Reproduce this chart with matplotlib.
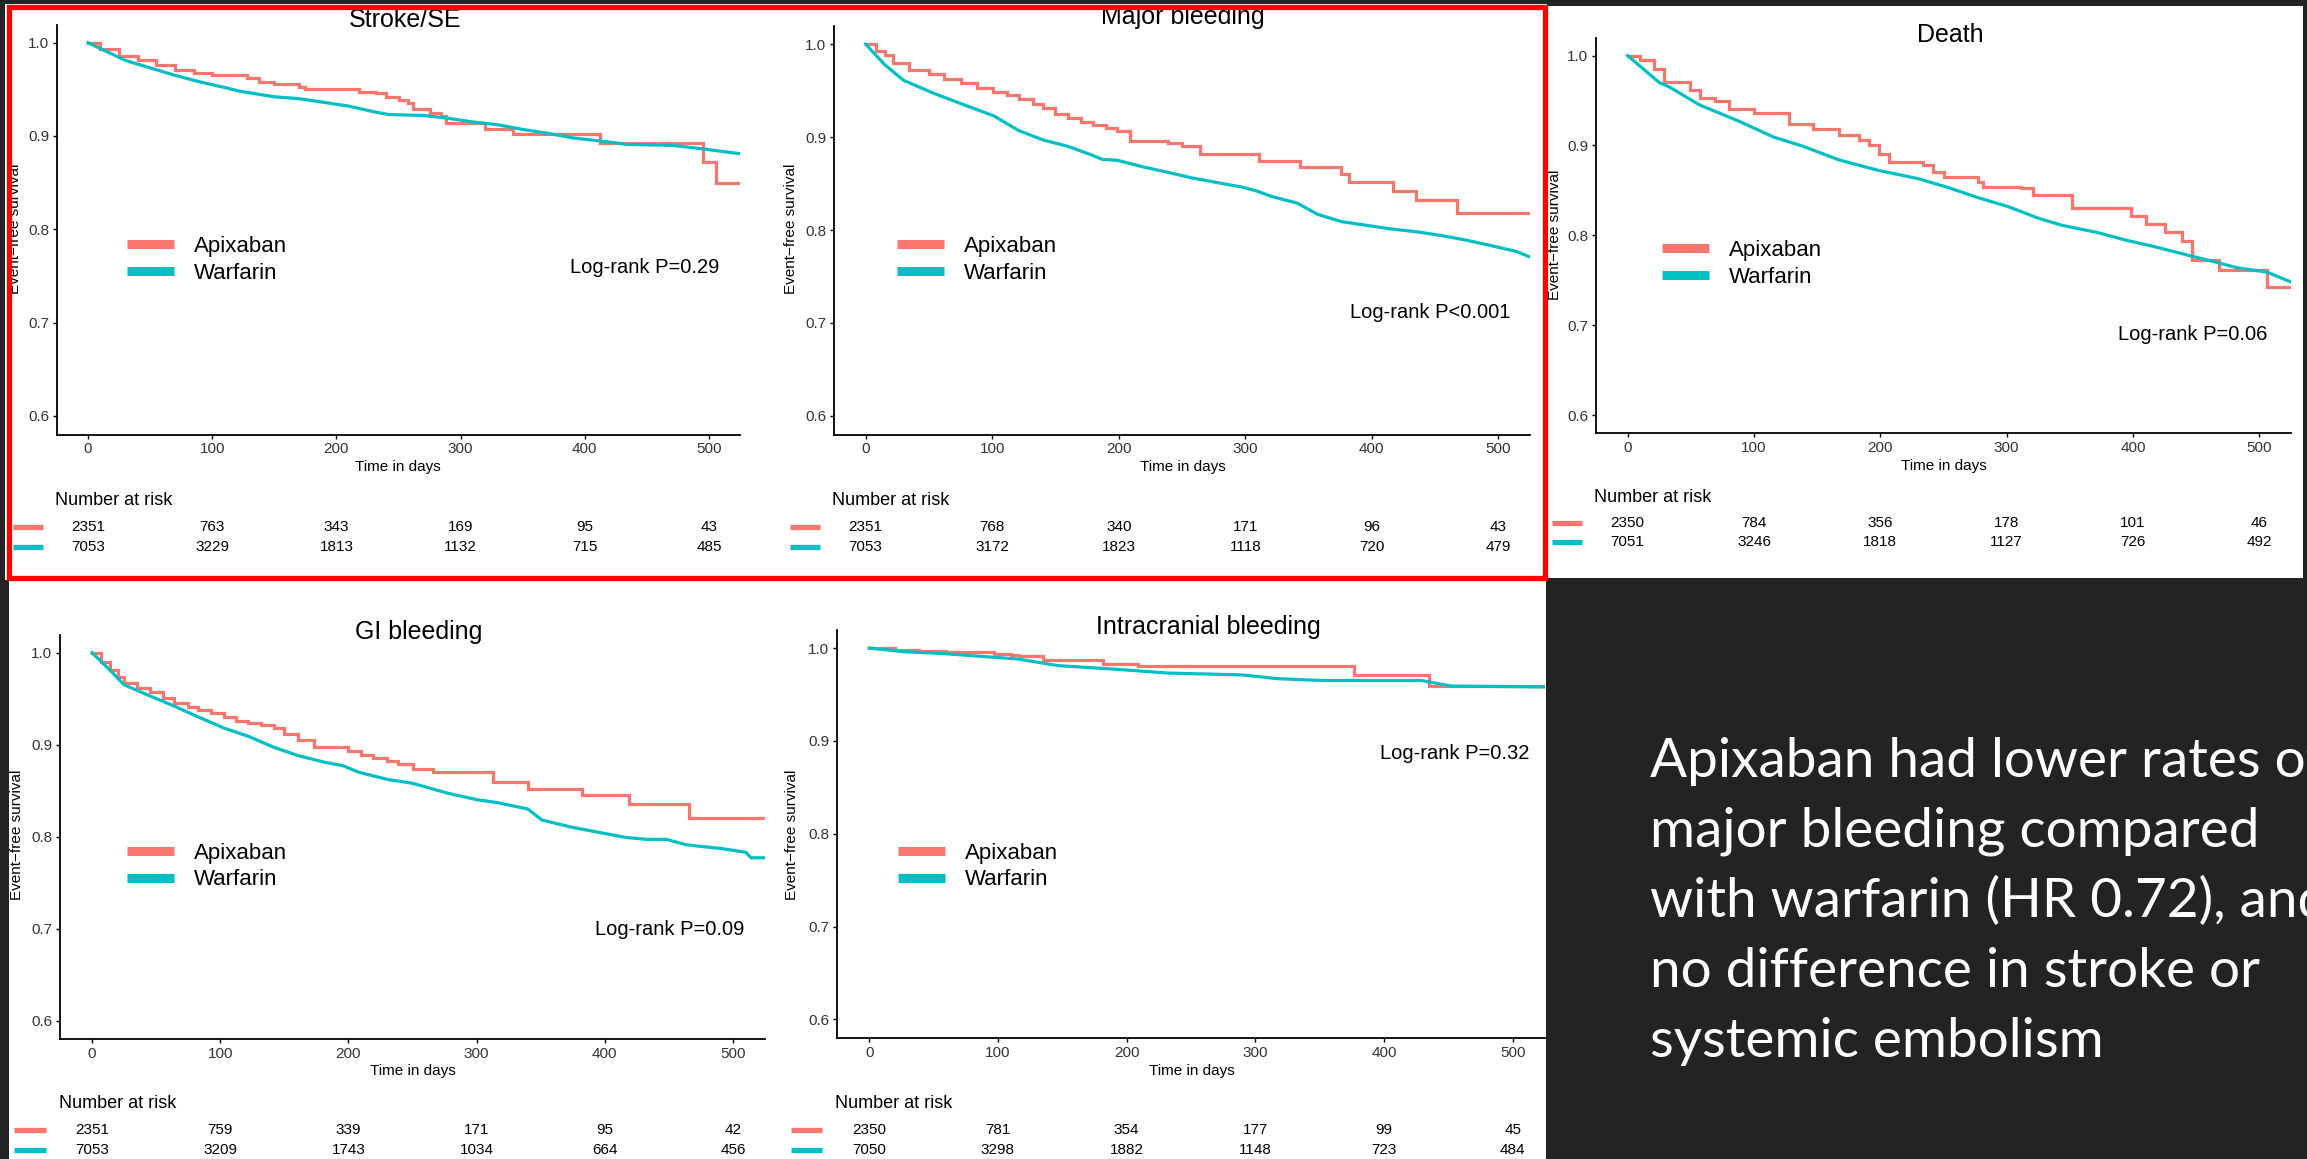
import matplotlib
matplotlib.use('Agg')
import matplotlib.pyplot as plt
from matplotlib.lines import Line2D
from matplotlib.patches import Rectangle
from matplotlib.transforms import blended_transform_factory

W, H = 2307, 1159
APIX = '#F8766D'
WARF = '#00BFC4'
BG = '#232323'

plt.rcParams['font.family'] = ['Liberation Sans', 'DejaVu Sans']

# ---- data ----
risk_days = [0, 100, 200, 300, 400, 500]
titles = ['Stroke/SE', 'Major bleeding', 'Death', 'GI bleeding', 'Intracranial bleeding']
p_values = ['Log-rank P=0.29', 'Log-rank P<0.001', 'Log-rank P=0.06', 'Log-rank P=0.09', 'Log-rank P=0.32']

# Stroke/SE
stroke_apix_t = [0, 10, 25, 40, 55, 70, 85, 100, 128, 138, 150, 170, 175, 218, 232, 240, 250, 258, 262, 275, 284, 288, 320, 342, 412, 495, 506, 525]
stroke_apix_s = [1.0, 0.993, 0.986, 0.981, 0.976, 0.971, 0.967, 0.965, 0.962, 0.958, 0.956, 0.953, 0.950, 0.947, 0.946, 0.942, 0.939, 0.935, 0.929, 0.925, 0.921, 0.914, 0.908, 0.902, 0.892, 0.872, 0.850, 0.850]
stroke_warf_t = [0, 30, 50, 70, 90, 110, 122, 150, 170, 190, 210, 230, 242, 270, 290, 310, 330, 350, 370, 390, 410, 434, 470, 490, 525]
stroke_warf_s = [1.0, 0.981, 0.973, 0.965, 0.958, 0.952, 0.948, 0.942, 0.940, 0.936, 0.932, 0.926, 0.923, 0.922, 0.919, 0.915, 0.912, 0.907, 0.903, 0.898, 0.895, 0.891, 0.890, 0.887, 0.881]
stroke_risk_apix = [2351, 763, 343, 169, 95, 43]
stroke_risk_warf = [7053, 3229, 1813, 1132, 715, 485]

# Major bleeding
major_apix_t = [0, 8, 15, 22, 34, 50, 62, 75, 88, 101, 112, 121, 132, 140, 150, 160, 170, 180, 190, 199, 209, 239, 250, 264, 311, 343, 376, 382, 417, 435, 467, 525]
major_apix_s = [1.0, 0.993, 0.988, 0.980, 0.972, 0.968, 0.963, 0.958, 0.953, 0.949, 0.945, 0.941, 0.936, 0.931, 0.925, 0.920, 0.916, 0.913, 0.910, 0.907, 0.896, 0.894, 0.890, 0.882, 0.874, 0.868, 0.860, 0.852, 0.842, 0.832, 0.818, 0.818]
major_warf_t = [0, 15, 30, 54, 81, 101, 121, 140, 160, 180, 187, 199, 219, 239, 258, 278, 298, 309, 321, 341, 349, 357, 376, 396, 416, 436, 455, 475, 495, 514, 525]
major_warf_s = [1.0, 0.978, 0.961, 0.947, 0.933, 0.923, 0.907, 0.897, 0.890, 0.880, 0.876, 0.875, 0.868, 0.862, 0.856, 0.851, 0.846, 0.842, 0.836, 0.829, 0.823, 0.817, 0.809, 0.805, 0.801, 0.798, 0.794, 0.789, 0.783, 0.777, 0.771]
major_risk_apix = [2351, 768, 340, 171, 96, 43]
major_risk_warf = [7053, 3172, 1823, 1118, 720, 479]

# Death
death_apix_t = [0, 10, 21, 29, 49, 57, 69, 80, 100, 128, 147, 167, 183, 191, 199, 207, 234, 242, 250, 277, 281, 311, 321, 352, 398, 410, 425, 439, 447, 468, 506, 525]
death_apix_s = [1.0, 0.995, 0.985, 0.970, 0.962, 0.953, 0.949, 0.941, 0.936, 0.924, 0.918, 0.912, 0.906, 0.901, 0.890, 0.881, 0.878, 0.870, 0.865, 0.859, 0.854, 0.853, 0.845, 0.830, 0.822, 0.813, 0.804, 0.794, 0.773, 0.761, 0.743, 0.743]
death_warf_t = [0, 25, 33, 57, 88, 116, 139, 167, 199, 230, 254, 277, 301, 325, 344, 372, 396, 415, 443, 463, 482, 506, 525]
death_warf_s = [1.0, 0.970, 0.965, 0.945, 0.927, 0.909, 0.899, 0.884, 0.872, 0.863, 0.853, 0.842, 0.832, 0.819, 0.811, 0.803, 0.794, 0.788, 0.778, 0.771, 0.764, 0.759, 0.748]
death_risk_apix = [2350, 784, 356, 178, 101, 46]
death_risk_warf = [7051, 3246, 1818, 1127, 726, 492]

# GI bleeding
gi_apix_t = [0, 7, 14, 20, 25, 35, 45, 55, 64, 75, 83, 93, 103, 112, 122, 132, 142, 150, 161, 173, 200, 210, 219, 230, 239, 250, 266, 313, 340, 382, 419, 466, 525]
gi_apix_s = [1.0, 0.990, 0.981, 0.974, 0.967, 0.962, 0.957, 0.951, 0.945, 0.941, 0.938, 0.934, 0.930, 0.926, 0.923, 0.921, 0.918, 0.912, 0.905, 0.897, 0.893, 0.889, 0.885, 0.882, 0.879, 0.873, 0.870, 0.859, 0.852, 0.845, 0.835, 0.820, 0.820]
gi_warf_t = [0, 14, 25, 45, 64, 83, 103, 122, 142, 161, 181, 196, 208, 231, 250, 278, 301, 316, 340, 351, 375, 394, 417, 433, 448, 464, 491, 510, 514, 525]
gi_warf_s = [1.0, 0.981, 0.965, 0.953, 0.942, 0.930, 0.918, 0.909, 0.897, 0.888, 0.881, 0.877, 0.870, 0.862, 0.858, 0.847, 0.840, 0.837, 0.830, 0.818, 0.810, 0.805, 0.799, 0.797, 0.797, 0.791, 0.787, 0.783, 0.777, 0.777]
gi_risk_apix = [2351, 759, 339, 171, 95, 42]
gi_risk_warf = [7053, 3209, 1743, 1034, 664, 456]

# Intracranial bleeding
ich_apix_t = [0, 20, 39, 60, 97, 110, 116, 135, 182, 209, 377, 435, 526]
ich_apix_s = [1.0, 0.998, 0.997, 0.996, 0.994, 0.992, 0.991, 0.987, 0.983, 0.981, 0.971, 0.959, 0.959]
ich_warf_t = [0, 27, 58, 97, 116, 147, 193, 232, 290, 317, 352, 429, 452, 526]
ich_warf_s = [1.0, 0.996, 0.994, 0.990, 0.988, 0.981, 0.977, 0.973, 0.971, 0.967, 0.965, 0.965, 0.959, 0.958]
ich_risk_apix = [2350, 781, 354, 177, 99, 45]
ich_risk_warf = [7050, 3298, 1882, 1148, 723, 484]

slide_lines = ['Apixaban had lower rates of', 'major bleeding compared',
               'with warfarin (HR 0.72), and', 'no difference in stroke or',
               'systemic embolism']

curves = [
    (stroke_apix_t, stroke_apix_s, stroke_warf_t, stroke_warf_s, stroke_risk_apix, stroke_risk_warf),
    (major_apix_t, major_apix_s, major_warf_t, major_warf_s, major_risk_apix, major_risk_warf),
    (death_apix_t, death_apix_s, death_warf_t, death_warf_s, death_risk_apix, death_risk_warf),
    (gi_apix_t, gi_apix_s, gi_warf_t, gi_warf_s, gi_risk_apix, gi_risk_warf),
    (ich_apix_t, ich_apix_s, ich_warf_t, ich_warf_s, ich_risk_apix, ich_risk_warf),
]

# ---- layout in pixels ----
# axes box (left, top, right, bottom)
boxes = [(57, 24.5, 740, 434.5), (834, 26, 1530, 434.5), (1596, 38, 2291, 433),
         (60, 634.7, 765, 1039), (837, 629.9, 1545, 1037.9)]
title_pos = [(405, 19.6), (1183, 17), (1950, 34.6), (419, 631.7), (1208, 627.3)]
xlab_pos = [(398, 467), (1183, 467), (1944, 466), (413, 1071), (1192, 1071)]
ylab_pos = [(15, 229), (791, 229), (1555, 235), (17, 835), (792, 835)]
leg_pos = [(127, 259.8), (897, 259.8), (1662, 264), (127, 866.7), (898, 866.7)]
pval_pos = [(508, 0.759), (509.5, 0.711), (506, 0.690), (509, 0.699), (512.6, 0.886)]
nar_pos = [(55, 500), (832, 500), (1594, 497), (59, 1103), (835, 1103)]
risk_rows = [(527, 547), (527, 547), (523, 542), (1130, 1150), (1130, 1150)]
swatch_x = [(13, 43), (790, 820), (1552, 1582), (14, 46), (791, 822)]

fig = plt.figure(figsize=(W / 100, H / 100), dpi=100)
fig.patch.set_facecolor(BG)


def fx(px):
    return px / W


def fy(py):
    return 1 - py / H


def white_box(l, t, r, b):
    fig.add_artist(Rectangle((fx(l), fy(b)), (r - l) / W, (b - t) / H, transform=fig.transFigure,
                             facecolor='white', edgecolor='none', zorder=-2))


white_box(5, 4, 1547, 580)
white_box(1547, 6, 2303, 578)
white_box(9, 580, 1546, 1159)

for i in range(5):
    apix_t, apix_s, warf_t, warf_s, risk_a, risk_w = curves[i]
    l, t, r, b = boxes[i]
    ax = fig.add_axes([fx(l), fy(b), (r - l) / W, (b - t) / H])
    ax.patch.set_alpha(0)
    ax.plot(apix_t, apix_s, color=APIX, lw=2.3, drawstyle='steps-post', solid_joinstyle='miter')
    ax.plot(warf_t, warf_s, color=WARF, lw=2.3)
    ax.set_xlim(-25, 525)
    ax.set_ylim(0.58, 1.0195)
    ax.set_xticks(risk_days)
    ax.set_yticks([0.6, 0.7, 0.8, 0.9, 1.0])
    ax.set_yticklabels(['0.6', '0.7', '0.8', '0.9', '1.0'])
    for side in ['top', 'right']:
        ax.spines[side].set_visible(False)
    for side in ['left', 'bottom']:
        ax.spines[side].set_linewidth(1.3)
        ax.spines[side].set_color('black')
    ax.tick_params(direction='out', length=3, width=1, pad=2.5, labelsize=11, colors='black',
                   labelcolor='#333333')

    ax.text(pval_pos[i][0], pval_pos[i][1], p_values[i], ha='right', va='center', fontsize=14.5)

    handles = [Line2D([], [], color=APIX, lw=6.5, solid_capstyle='butt'),
               Line2D([], [], color=WARF, lw=6.5, solid_capstyle='butt')]
    ax.legend(handles, ['Apixaban', 'Warfarin'], loc='center left',
              bbox_to_anchor=(fx(leg_pos[i][0]), fy(leg_pos[i][1])), bbox_transform=fig.transFigure,
              frameon=False, fontsize=16, handlelength=2.1, handletextpad=0.9,
              labelspacing=0.25, borderpad=0, borderaxespad=0)

    fig.text(fx(title_pos[i][0]), fy(title_pos[i][1]), titles[i], ha='center', va='center', fontsize=18)
    fig.text(fx(xlab_pos[i][0]), fy(xlab_pos[i][1]), 'Time in days', ha='center', va='center', fontsize=11)
    fig.text(fx(ylab_pos[i][0]), fy(ylab_pos[i][1]), 'Event\u2212free survival', ha='center', va='center',
             rotation=90, fontsize=11)
    fig.text(fx(nar_pos[i][0]), fy(nar_pos[i][1]), 'Number at risk', ha='left', va='center', fontsize=13)

    # risk table, columns follow the x axis scale
    trans = blended_transform_factory(ax.transData, fig.transFigure)
    for row_y, vals, col in [(risk_rows[i][0], risk_a, APIX), (risk_rows[i][1], risk_w, WARF)]:
        for d, v in zip(risk_days, vals):
            fig.text(d, fy(row_y), str(v), transform=trans, ha='center', va='center', fontsize=11)
        fig.add_artist(Line2D([fx(swatch_x[i][0]), fx(swatch_x[i][1])], [fy(row_y), fy(row_y)],
                              transform=fig.transFigure, color=col, lw=3.8, solid_capstyle='butt'))

# red highlight around the first two panels
fig.add_artist(Rectangle((fx(9), fy(577.5)), (1545 - 9) / W, (577.5 - 6.5) / H, transform=fig.transFigure,
                         facecolor='none', edgecolor='#FF0000', lw=3.8, zorder=10))

# slide text (runs off the right edge, as on the slide)
baselines = [776.5, 846, 916.6, 986.8, 1057]
for line, yb in zip(slide_lines, baselines):
    fig.text(fx(1650), fy(yb), line, ha='left', va='baseline', color='white', fontsize=39.5,
             family=['Lato', 'DejaVu Sans'])

fig.savefig('out.png', dpi=100, facecolor=BG)
